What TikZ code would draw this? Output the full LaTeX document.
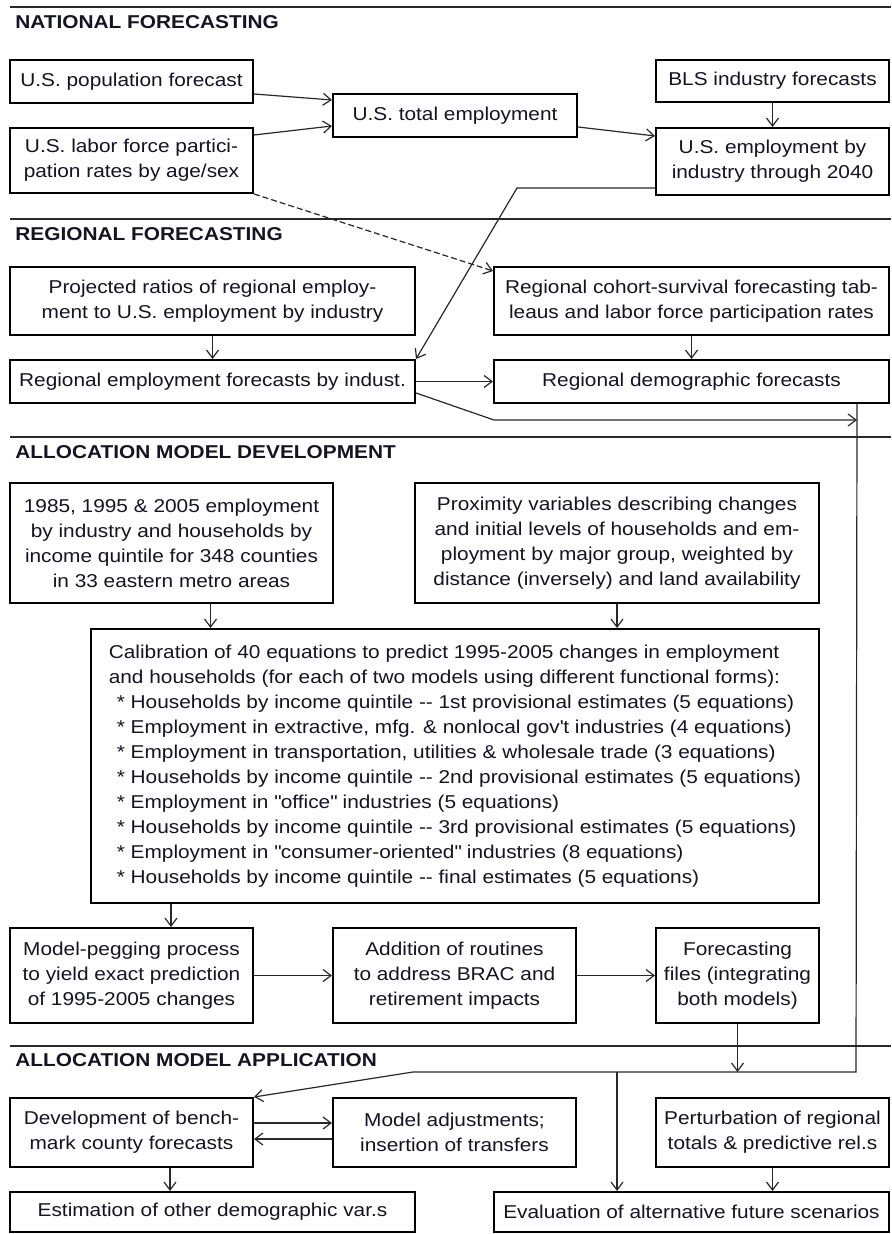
\documentclass[tikz,border=0pt]{standalone}
\usepackage{fontspec}
\setmainfont{Liberation Sans}[FakeStretch=1.12]
\usetikzlibrary{arrows.meta,calc}
\definecolor{lineclr}{RGB}{40,40,40}
\definecolor{txtclr}{RGB}{20,20,35}
\tikzset{
  %% flow box
  blk/.style={rectangle,draw=black,line width=1pt,fill=white,
    minimum width=121.5pt,minimum height=21.5pt,
    font=\fontsize{9.3}{12.5}\selectfont,align=center,text=txtclr,inner sep=2pt},
  %% section header
  hdr/.style={anchor=west,inner sep=0pt,
    font=\fontsize{9.3}{12.5}\selectfont\bfseries,text=txtclr},
  %% section rule
  secrule/.style={line width=1pt,color=lineclr},
  %% arrows
  arr/.style={-{Straight Barb[length=4pt,width=6pt]},line width=0.6pt,color=lineclr},
  darr/.style={arr,dash pattern=on 3pt off 1.5pt},
}

\begin{document}
\begin{tikzpicture}[x=0.5pt,y=-0.5pt]
  \fill[white] (0,0) rectangle (891,1234);
  \useasboundingbox (0,0) rectangle (891,1234);

  %% section rules and headers
  \foreach \yy in {7,219,437,1046}
    \draw[secrule] (10,\yy) -- (891,\yy);
  \node[hdr] (hnat) at (15,22) {NATIONAL FORECASTING};
  \node[hdr] (hreg) at (15,234) {REGIONAL FORECASTING};
  \node[hdr] (hdev) at (15,452) {ALLOCATION MODEL DEVELOPMENT};
  \node[hdr] (happ) at (15,1060) {ALLOCATION MODEL APPLICATION};

  %% national
  \node[blk] (pop) at (131.5,81.5) {U.S. population forecast};
  \node[blk,minimum height=32.5pt] (labor) at (131.5,160.5)
    {U.S. labor force partici-\\pation rates by age/sex};
  \node[blk,minimum width=122pt] (total) at (455,115.5) {U.S. total employment};
  \node[blk,minimum width=116.5pt,minimum height=21pt] (bls) at (772.5,81)
    {BLS industry forecasts};
  \node[blk,minimum width=116.5pt,minimum height=33.5pt] (usind) at (772.5,161.5)
    {U.S. employment by\\industry through 2040};

  %% regional
  \node[blk,minimum width=202.5pt,minimum height=34pt] (proj) at (212.5,301)
    {Projected ratios of regional employ-\\ment to U.S. employment by industry};
  \node[blk,minimum width=202.5pt] (regemp) at (212.5,381.5)
    {Regional employment forecasts by indust.};
  \node[blk,minimum width=197.5pt,minimum height=34pt] (cohort) at (691.5,301)
    {Regional cohort-survival forecasting tab-\\leaus and labor force participation rates};
  \node[blk,minimum width=197.5pt] (regdemo) at (691.5,381.5)
    {Regional demographic forecasts};

  %% model development
  \node[blk,minimum width=161.5pt,minimum height=60pt] (data) at (171.5,543)
    {1985, 1995 \& 2005 employment\\by industry and households by\\income quintile for 348 counties\\in 33 eastern metro areas};
  \node[blk,minimum width=202pt,minimum height=60pt] (prox) at (617,543)
    {Proximity variables describing changes\\and initial levels of households and em-\\ployment by major group, weighted by\\distance (inversely) and land availability};
  \node[blk,minimum width=364pt,minimum height=137pt,align=left] (calib) at (455,766)
    {Calibration of 40 equations to predict 1995-2005 changes in employment\\
     and households (for each of two models using different functional forms):\\
     \hspace*{4pt}* Households by income quintile -{}- 1st provisional estimates (5 equations)\\
     \hspace*{4pt}* Employment in extractive, mfg. \& nonlocal gov\textquotesingle t industries (4 equations)\\
     \hspace*{4pt}* Employment in transportation, utilities \& wholesale trade (3 equations)\\
     \hspace*{4pt}* Households by income quintile -{}- 2nd provisional estimates (5 equations)\\
     \hspace*{4pt}* Employment in \textquotedbl office\textquotedbl\ industries (5 equations)\\
     \hspace*{4pt}* Households by income quintile -{}- 3rd provisional estimates (5 equations)\\
     \hspace*{4pt}* Employment in \textquotedbl consumer-oriented\textquotedbl\ industries (8 equations)\\
     \hspace*{4pt}* Households by income quintile -{}- final estimates (5 equations)};
  \node[blk,minimum height=47.5pt] (peg) at (131.5,975.5)
    {Model-pegging process\\to yield exact prediction\\of 1995-2005 changes};
  \node[blk,minimum height=47.5pt] (add) at (454.5,975.5)
    {Addition of routines\\to address BRAC and\\retirement impacts};
  \node[blk,minimum width=81.5pt,minimum height=47.5pt] (files) at (737.5,975.5)
    {Forecasting\\files (integrating\\both models)};

  %% model application
  \node[blk,minimum height=34.5pt] (bench) at (131.5,1132.5)
    {Development of bench-\\mark county forecasts};
  \node[blk,minimum height=34.5pt] (adj) at (454.5,1132.5)
    {Model adjustments;\\insertion of transfers};
  \node[blk,minimum width=116.5pt,minimum height=34.5pt] (pert) at (772.5,1132.5)
    {Perturbation of regional\\totals \& predictive rel.s};
  \node[blk,minimum width=202.5pt,minimum height=20pt] (estim) at (212.5,1212)
    {Estimation of other demographic var.s};
  \node[blk,minimum width=197.5pt,minimum height=20pt] (evalb) at (691.5,1212)
    {Evaluation of alternative future scenarios};

  %% connectors
  \draw[arr] ($(pop.east)+(0,12.5)$) -- ($(total.west)+(0,-15.5)$);
  \draw[arr] ($(labor.east)+(0,-25.5)$) -- ($(total.west)+(0,10.5)$);
  \draw[arr] ($(total.east)+(0,11.5)$) -- ($(usind.west)+(0,-25.5)$);
  \draw[arr] (bls.south) -- (usind.north);
  \draw[darr] (labor.south east) -- ($(cohort.north west)+(0,5)$);
  \draw[arr] ($(usind.south west)+(0,-8)$) -- ++(-138,0) -- (regemp.north east);
  \draw[arr] (proj.south) -- (regemp.north);
  \draw[arr] (cohort.south) -- (regdemo.north);
  \draw[arr] (regemp.east) -- (regdemo.west);

  %% rail down the right side
  \coordinate (rtop) at ($(regdemo.south east)+(-33,0)$);
  \coordinate (rbot) at (856,1072);
  \coordinate (rleft) at (413,1072);
  \coordinate (split) at (617,1072);
  \draw[arr] ($(regemp.east)+(0,11.5)$) -- ++(78,27) coordinate (kink) -- (kink -| rtop);
  \draw[arr] (rtop) -- (rbot) -- (rleft) -- (bench.north east);

  \draw[arr] ($(data.south)+(39,0)$) coordinate (d1) -- (d1 |- calib.north);
  \draw[arr] (prox.south) -- (prox.south |- calib.north);
  \draw[arr] ($(calib.south)+(-284,0)$) -- ($(peg.north)+(39.5,0)$);
  \draw[arr] (peg.east) -- (add.west);
  \draw[arr] (add.east) -- (files.west);
  \draw[arr] (files.south) -- (files.south |- rbot);

  \draw[arr] ($(bench.east)+(0,-9.5)$) -- ($(adj.west)+(0,-9.5)$);
  \draw[arr] ($(adj.west)+(0,6.5)$) -- ($(bench.east)+(0,6.5)$);
  \draw[arr] ($(bench.south)+(38.5,0)$) coordinate (b1) -- (b1 |- estim.north);
  \draw[arr] (split) -- (split |- evalb.north);
  \draw[arr] (pert.south) -- (pert.south |- evalb.north);
\end{tikzpicture}
\end{document}
